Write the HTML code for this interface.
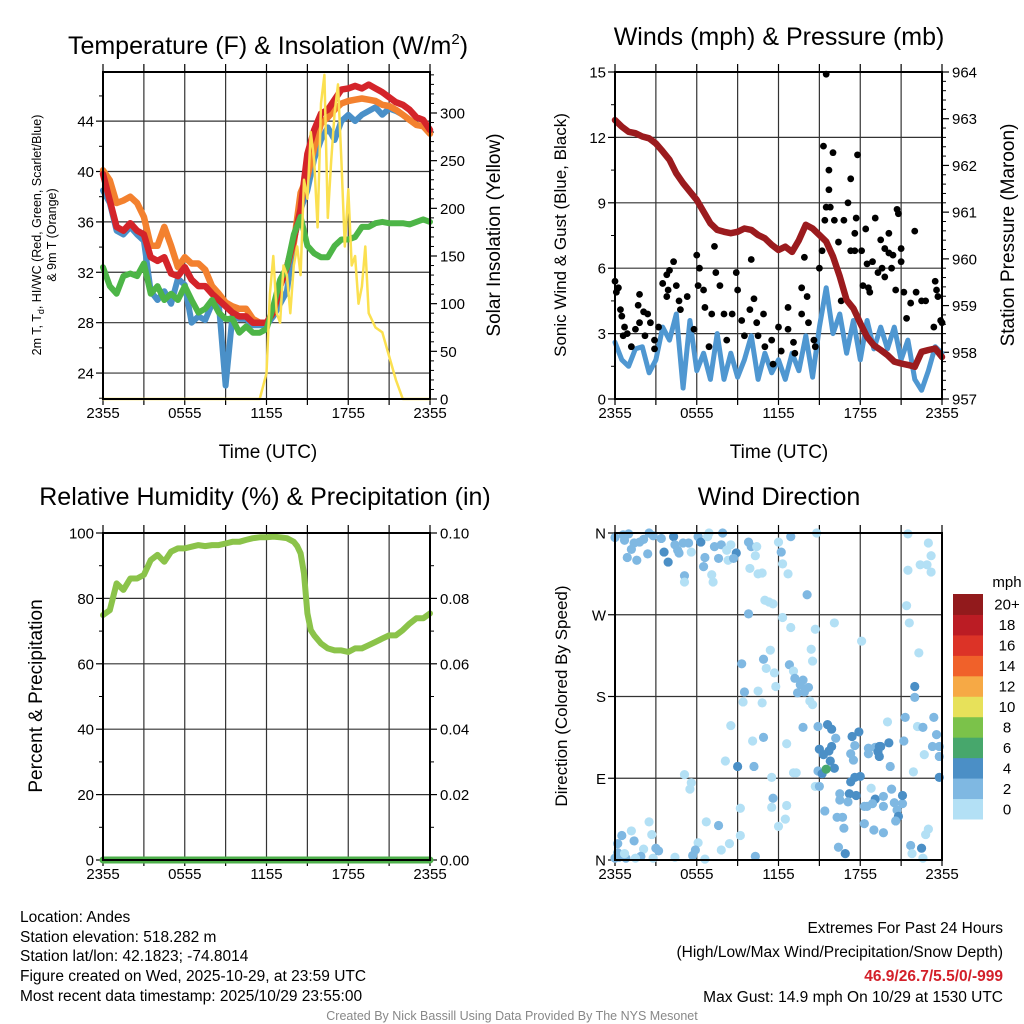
<!DOCTYPE html>
<html><head><meta charset="utf-8">
<style>
html,body{margin:0;padding:0;background:#fff;}
svg{display:block;font-family:"Liberation Sans",Arial,sans-serif;}
</style></head>
<body>
<svg id="fig" width="1024" height="1024" viewBox="0 0 1024 1024">
<g id="g1"></g>
<g id="g2"></g>
<g id="g3"></g>
<g id="g4"></g>
<g id="txt">
<text x="20" y="922" font-size="15.5">Location: Andes</text>
<text x="20" y="942" font-size="15.5">Station elevation: 518.282 m</text>
<text x="20" y="961" font-size="15.5">Station lat/lon: 42.1823; -74.8014</text>
<text x="20" y="981" font-size="15.5">Figure created on Wed, 2025-10-29, at 23:59 UTC</text>
<text x="20" y="1001" font-size="15.5">Most recent data timestamp: 2025/10/29 23:55:00</text>
<text x="1003" y="933" font-size="15.5" text-anchor="end">Extremes For Past 24 Hours</text>
<text x="1003" y="957" font-size="15.5" text-anchor="end">(High/Low/Max Wind/Precipitation/Snow Depth)</text>
<text x="1003" y="981" font-size="15.5" font-weight="bold" fill="#d3202a" text-anchor="end">46.9/26.7/5.5/0/-999</text>
<text x="1003" y="1002" font-size="15.5" text-anchor="end">Max Gust: 14.9 mph On 10/29 at 1530 UTC</text>
<text x="512" y="1020" font-size="12.5" fill="#888" text-anchor="middle">Created By Nick Bassill Using Data Provided By The NYS Mesonet</text>
</g>
</svg>
<script>
// ---- data ----
const hours = [0,0.5,1,1.5,2,2.5,3,3.5,4,4.5,5,5.5,6,6.5,7,7.5,8,8.5,9,9.5,10,10.5,11,11.5,12,12.5,13,13.5,14,14.5,15,15.5,16,16.5,17,17.5,18,18.5,19,19.5,20,20.5,21,21.5,22,22.5,23,23.5,24];
const timeTicks = ["2355","0555","1155","1755","2355"];
const tempRed = [39.8,37.7,35.6,35.3,35.9,35.3,35.0,33.2,32.9,33.2,31.9,31.7,32.4,31.4,30.9,30.9,30.3,29.8,29.3,28.8,28.5,28.5,28.0,28.0,28.0,28.8,30.9,32.4,34.6,37.0,41.4,43.3,44.6,44.9,45.7,46.5,46.6,46.8,46.6,46.9,46.6,46.3,45.9,45.5,45.3,44.9,44.3,44.1,43.3];
const temp9m = [40.1,39.3,37.5,37.7,38.0,37.5,36.4,34.1,34.1,35.6,34.1,32.4,33.2,32.7,32.7,32.2,30.9,30.3,29.6,29.3,29.1,29.1,28.3,28.0,28.0,28.8,30.9,32.4,34.3,38.3,39.6,41.9,43.8,44.3,44.9,45.4,45.6,45.7,45.8,45.7,45.6,45.3,45.2,44.9,44.5,44.1,43.7,43.6,43.0];
const heatIdx = [38.5,37.5,35.3,35.0,35.6,35.0,34.5,30.5,29.8,30.5,29.5,31.5,31.0,28.0,28.5,28.2,29.5,29.5,23.0,28.5,28.3,28.3,27.8,27.8,27.8,28.5,29.5,30.5,34.5,37.0,38.5,41.0,42.5,43.5,42.5,44.0,44.5,44.0,44.5,44.8,45.1,44.5,45.0,44.8,44.5,44.1,43.7,43.6,43.0];
const dewPt = [32.4,30.9,30.3,31.7,31.9,31.7,32.7,30.3,30.9,29.8,30.3,29.8,30.9,29.8,28.8,29.1,29.8,28.8,28.3,28.3,27.2,27.7,27.2,27.2,27.5,29.3,31.4,32.4,35.0,36.4,34.1,33.5,33.2,33.2,34.1,34.6,34.6,34.8,35.6,35.6,35.9,36.0,35.9,35.9,35.9,35.8,36.0,36.2,36.0];
const solarHours = [0,11.5,12,12.25,12.5,12.75,13,13.25,13.5,13.75,14,14.25,14.5,14.75,15,15.25,15.5,15.75,16,16.25,16.5,16.75,17,17.25,17.5,17.75,18,18.25,18.5,18.75,19,19.25,19.5,20,20.5,21,21.5,22,24];
const solarVals = [0,0,27,110,150,90,80,140,130,90,140,160,130,230,210,280,250,180,310,340,190,250,300,330,250,160,220,140,150,100,118,160,90,75,70,45,20,0,0];
const windSpd = [2.6,1.8,1.5,2.3,2.4,1.2,1.8,3.3,2.7,3.9,0.5,3.6,1.3,2.1,0.9,3.0,0.9,2.1,1.0,1.8,2.9,0.9,2.1,1.2,1.8,0.9,2.1,1.3,2.9,1.0,3.3,5.1,3.0,3.9,2.1,3.6,1.8,3.6,2.3,3.3,2.3,3.3,1.8,2.7,0.9,0.4,1.3,2.4,2.1];
const pressure = [962.97,962.83,962.72,962.69,962.62,962.58,962.47,962.30,962.12,961.83,961.62,961.44,961.26,961.01,960.76,960.62,960.58,960.55,960.58,960.65,960.62,960.51,960.44,960.30,960.19,960.26,960.15,960.40,960.73,960.65,960.51,960.37,960.05,959.62,959.12,958.94,958.62,958.33,958.15,958.05,957.94,957.80,957.76,957.73,957.69,958.01,958.05,958.08,957.90];
const gustHours = [0.0,0.1,0.25,0.4,0.5,0.7,0.9,0.6,1.2,1.5,1.8,1.8,1.7,2.1,2.4,2.6,2.2,2.9,2.9,3.2,3.5,3.8,4.0,4.3,3.9,3.8,4.5,4.7,4.8,5.3,5.8,6.0,6.2,6.1,6.5,6.6,6.9,7.1,7.3,7.4,7.7,8.0,8.2,8.6,8.9,9.0,9.3,9.5,9.9,10.0,10.2,10.4,10.5,10.9,11.0,11.5,11.6,12.0,12.2,12.7,12.7,13.1,13.2,13.7,13.7,13.9,14.1,14.2,14.6,14.7,15.0,15.2,15.3,15.4,15.5,15.5,15.7,15.7,15.8,16.0,16.1,16.4,16.6,16.8,17.1,17.3,17.3,17.6,17.6,17.8,17.7,18.1,18.2,18.4,18.5,18.6,18.7,18.9,19.1,19.3,19.5,19.6,19.8,19.8,20.1,20.1,20.3,20.4,20.6,20.7,20.8,21.0,21.0,21.2,21.4,21.7,22.0,22.1,22.5,22.8,23.4,23.5,23.6,23.7,23.9,24.0];
const gustVals = [5.4,4.9,5.1,4.1,3.8,3.3,3.0,2.9,2.4,3.2,3.5,4.8,4.3,4.0,3.9,3.5,2.9,2.7,2.3,3.3,5.3,5.7,5.9,6.3,5.0,4.7,5.2,4.5,4.1,4.7,3.2,6.6,6.0,5.2,5.0,4.2,2.4,3.9,7.0,5.8,5.2,3.9,2.7,3.9,5.8,5.0,3.6,2.9,4.1,6.4,4.6,3.5,2.9,3.9,2.4,2.7,1.6,3.3,2.2,4.2,3.2,2.6,2.1,3.9,5.1,6.5,4.7,3.5,2.7,2.4,6.0,6.8,11.6,8.2,14.9,8.8,10.5,9.6,8.8,11.3,8.2,7.2,4.5,8.2,9.0,10.1,6.8,7.6,6.8,11.2,8.3,6.8,5.2,7.8,6.2,5.1,4.9,6.3,8.3,5.8,7.3,6.0,6.9,5.6,7.6,6.7,6.0,6.6,5.0,8.7,8.5,6.9,6.3,4.9,3.7,4.4,7.7,4.9,4.5,4.5,3.3,5.4,5.0,4.7,3.6,3.5];
const rhHours = [0,0.5,1,1.5,2,2.5,3,3.5,4,4.5,5,5.5,6,6.5,7,7.5,8,8.5,9,9.5,10,10.5,11,11.5,12,12.5,13,13.5,14,14.25,14.5,14.75,15,15.25,15.5,16,16.5,17,17.5,18,18.5,19,19.5,20,20.5,21,21.5,22,22.5,23,23.5,24];
const rhVals = [74.9,76.4,84.6,82.6,86.1,86.1,87.2,91.7,93.3,91.2,94.3,95.3,95.3,95.8,96.3,96.0,96.3,96.3,96.8,97.3,97.3,97.9,98.4,98.7,98.7,98.9,98.7,98.4,97.3,96.0,93.8,87.6,75.4,70.3,68.7,66.2,64.7,64.1,64.1,63.6,64.7,64.7,65.7,66.7,67.7,68.7,68.7,70.3,72.3,73.9,73.9,75.4];
const precipHours = [0,24];
const precipVals = [0,0];
const dirHours = [0.0,0.6,1.0,0.7,1.2,0.9,1.6,1.4,1.8,2.1,2.4,2.5,2.8,3.4,3.6,3.9,4.3,4.4,4.6,4.7,5.0,5.4,5.6,6.1,6.3,6.6,6.8,6.9,7.3,7.6,7.9,7.8,8.2,8.3,8.5,8.9,8.7,6.5,7.1,7.2,5.1,5.1,9.8,10.0,10.3,10.4,9.9,10.5,10.8,12.0,12.2,12.3,12.7,12.9,14.8,14.1,11.0,11.3,11.6,9.8,12.3,12.9,14.7,16.1,14.4,14.5,18.1,21.5,23.0,23.2,22.9,22.4,23.2,21.5,21.4,21.6,22.3,
9.3,10.9,11.4,11.1,12.8,13.1,11.7,13.2,13.8,13.6,14.2,13.4,13.9,9.5,10.5,11.8,9.4,10.8,14.3,14.5,22.0,22.0,21.3,23.4,20.0,22.2,22.6,23.6,23.3,21.2,22.7,23.8,23.8,13.8,14.9,15.6,15.9,16.2,17.4,17.9,17.6,15.9,15.7,15.0,15.3,15.8,16.1,14.9,15.2,15.5,8.5,10.9,10.1,12.6,8.1,9.0,10.2,5.1,5.6,5.5,11.5,13.1,13.3,14.7,15.0,17.3,17.5,18.6,18.6,19.1,19.4,19.3,19.5,19.4,20.2,20.1,17.3,17.6,18.0,21.9,23.8,18.8,16.5,17.2,17.7,16.5,17.1,18.3,18.5,19.1,18.9,19.7,20.3,20.5,21.1,21.1,20.7,20.8,20.6,19.7,18.3,19.0,19.7,16.3,16.7,16.8,15.4,16.4,16.9,21.7,22.5,22.6,21.8,23.0,22.8,12.6,11.6,11.5,9.2,12.5,12.0,9.2,10.3,8.4,7.8,7.6,6.7,6.1,5.9,5.7,6.6,4.4,3.2,3.0,2.8,2.5,2.7,2.1,1.9,1.5,1.4,1.2,0.5,0.2,0.2,0.0,0.3,0.8,0.7];
const dirDegrees = [355,358,359,352,342,333,330,349,350,353,337,360,357,354,339,328,356,347,341,338,349,349,339,356,350,333,356,360,345,332,360,347,341,330,347,338,332,323,314,306,313,306,350,345,335,345,321,315,316,350,339,326,315,356,360,292,286,284,282,271,267,256,254,261,232,219,241,359,349,335,325,325,317,319,280,261,228,
216,221,231,211,215,208,206,200,198,193,190,184,185,185,186,191,174,173,175,171,191,179,157,157,152,147,146,138,125,131,116,125,114,146,147,149,144,134,136,141,126,125,120,122,116,109,101,98,95,100,148,135,131,128,109,103,103,94,85,78,91,96,96,81,81,117,110,123,117,124,125,119,125,114,103,129,86,91,92,97,91,79,73,73,71,66,64,59,59,67,62,70,78,63,62,71,55,48,43,59,40,33,30,47,47,35,54,14,7,16,13,2,7,34,28,60,68,58,57,45,37,27,4,18,11,38,42,19,11,5,1,3,10,13,2,42,28,12,4,2,21,32,27,18,8,2,3,2,7];
const dirSpeeds = [3,3,3,3,3,3,3,3,3,3,3,3,3,3,5,5,5,3,3,3,3,3,1,3,5,3,1,1,3,3,3,3,1,1,1,5,3,3,1,1,3,1,3,3,1,1,1,1,1,1,3,1,1,3,1,3,1,1,1,3,1,1,1,1,1,1,1,1,1,1,1,1,1,1,1,1,1,
3,3,1,1,3,1,1,3,3,3,3,3,3,3,1,1,1,1,1,1,5,3,3,3,1,1,3,3,3,3,1,3,3,3,3,5,5,3,5,5,3,5,5,5,5,5,5,3,5,7,1,3,1,1,1,5,3,1,1,1,1,1,1,1,3,3,3,3,3,3,5,5,5,5,3,5,5,5,5,1,5,1,3,5,5,3,3,3,3,5,3,3,3,3,3,5,3,5,3,3,3,3,3,3,3,3,3,3,5,3,5,1,1,1,1,1,3,1,1,1,1,1,3,1,1,3,1,1,3,3,1,1,3,3,1,1,1,1,3,1,3,1,3,3,3,3,3,3,1];
const speedColors = ["#b3e0f5","#7fb8e2","#4b8fc6","#47a76c","#7bc24a","#e7e15a","#f6a945","#f0612a","#dc3327","#bb1c24","#921a1c"];
const cbLabels = ["0","2","4","6","8","10","12","14","16","18","20+"];

// ---- helpers ----
const NS="http://www.w3.org/2000/svg";
function mk(parent,tag,attrs,txt){const e=document.createElementNS(NS,tag);for(const k in attrs)e.setAttribute(k,attrs[k]);if(txt!==undefined)e.textContent=txt;parent.appendChild(e);return e;}
function lin(d0,d1,r0,r1){return v=>r0+(v-d0)*(r1-r0)/(d1-d0);}
function pathFrom(xs,ys,fx,fy){return xs.map((h,i)=>(i?"L":"M")+fx(h).toFixed(1)+","+fy(ys[i]).toFixed(1)).join("");}

function frame(g,L,R,T,B,yTicks,fy,labels,minorTicks){
  const fx=lin(0,24,L,R);
  for(let h=3;h<24;h+=3){const l=mk(g,"line",{x1:fx(h),x2:fx(h),y1:T,y2:B,stroke:"#333","stroke-width":1.2});
    
    }
  yTicks.forEach((v,i)=>{const y=fy(v);
    if(y>T+1&&y<B-1){const l=mk(g,"line",{x1:L,x2:R,y1:y,y2:y,stroke:"#333","stroke-width":1.2});
      
      }
    mk(g,"line",{x1:L-7,x2:L,y1:y,y2:y,stroke:"#000","stroke-width":1.2});
    const t=mk(g,"text",{x:L-9,y:y+5.5,"font-size":15,"text-anchor":"end"},labels[i]);
    
    
  });
  (minorTicks||[]).forEach(v=>{const y=fy(v);mk(g,"line",{x1:L-4,x2:L,y1:y,y2:y,stroke:"#000","stroke-width":1});});
  for(let h=0;h<=24;h+=3){mk(g,"line",{x1:fx(h),x2:fx(h),y1:B,y2:B+6,stroke:"#000","stroke-width":1.2});
    mk(g,"line",{x1:fx(h),x2:fx(h),y1:T-8,y2:T,stroke:"#000","stroke-width":1.2});}
  timeTicks.forEach((s,i)=>{const t=mk(g,"text",{x:fx(i*6),y:B+19,"font-size":15,"text-anchor":"middle"},s);
    
    });
  return fx;
}
function border(g,L,R,T,B){const r=mk(g,"rect",{x:L,y:T,width:R-L,height:B-T,fill:"none",stroke:"#000","stroke-width":2});
  
  }
function rightTicks(g,R,vals,fy,labels,minor){
  vals.forEach((v,i)=>{const y=fy(v);mk(g,"line",{x1:R,x2:R+7,y1:y,y2:y,stroke:"#000","stroke-width":1.2});
    const t=mk(g,"text",{x:R+10,y:y+5.5,"font-size":15},labels[i]);
    
    });
  (minor||[]).forEach(v=>{const y=fy(v);mk(g,"line",{x1:R,x2:R+4,y1:y,y2:y,stroke:"#000","stroke-width":1});});
}
function title(g,x,y,s,name,size){const t=mk(g,"text",{x:x,y:y,"font-size":size||25,"text-anchor":"middle"},s);
  
  return t;}
function vtitle(g,x,y,s,name,size,rot){const t=mk(g,"text",{x:x,y:y,"font-size":size||19,"text-anchor":"middle",transform:`rotate(${rot||-90} ${x} ${y})`},s);
  
  return t;}
function series(g,xs,ys,fx,fy,color,w,name){const p=mk(g,"path",{d:pathFrom(xs,ys,fx,fy),fill:"none",stroke:color,"stroke-width":w,"stroke-linejoin":"round","stroke-linecap":"round"});
  
  return p;}

// ---- panel 1 ----
(function(){
  const g=document.getElementById("g1");const L=103,R=430,T=72,B=399;
  const fy=lin(21.94,47.9,B,T), fs=lin(0,343,B,T);
  const fx=frame(g,L,R,T,B,[24,28,32,36,40,44],fy,["24","28","32","36","40","44"],[22,26,30,34,38,42,46]);
  const ry=[0,50,100,150,200,250,300], rm=[];for(let v=10;v<343;v+=10)if(v%50)rm.push(v);
  rightTicks(g,R,ry,fs,ry.map(String),rm);
  series(g,hours,heatIdx,fx,fy,"#4a90c8",6,"heat-index-wind-chill-line");
  series(g,hours,temp9m,fx,fy,"#f3812f",6.5,"temp-9m-line");
  series(g,hours,tempRed,fx,fy,"#d4242a",6.5,"temp-2m-line");
  series(g,hours,dewPt,fx,fy,"#4db547",6,"dewpoint-line");
  series(g,solarHours,solarVals,fx,fs,"#fbe050",2.5,"solar-insolation-line");
  border(g,L,R,T,B);
  const t=title(g,268,54,"Temperature (F) & Insolation (W/m","chart-title");
  mk(t,"tspan",{"font-size":15,dy:-10},"2");mk(t,"tspan",{dy:10},")");
  title(g,268,458,"Time (UTC)","x-axis-title",19);
  const a=vtitle(g,41,235,"2m T, T","y-axis-title-left",12.5);
  mk(a,"tspan",{"font-size":9,dy:3},"d");
  mk(a,"tspan",{dy:-3},", HI/WC (Red, Green, Scarlet/Blue)");
  vtitle(g,56,235,"& 9m T (Orange)","y-axis-title-left-2",12.5);
  vtitle(g,500,235,"Solar Insolation (Yellow)","y-axis-title-right",19);
})();

// ---- panel 2 ----
(function(){
  const g=document.getElementById("g2");const L=615,R=942,T=72,B=399;
  const fy=lin(0,15,B,T), fp=lin(957,964,B,T);
  const fx=frame(g,L,R,T,B,[0,3,6,9,12,15],fy,["0","3","6","9","12","15"],[1.5,4.5,7.5,10.5,13.5]);
  const pv=[957,958,959,960,961,962,963,964],pm=[];for(let v=957.2;v<964;v+=0.2){if(Math.abs(v-Math.round(v))>0.05)pm.push(v);}
  rightTicks(g,R,pv,fp,pv.map(String),pm);
  series(g,hours,windSpd,fx,fy,"#4f97d1",5,"wind-speed-line");
  gustHours.forEach((h,i)=>{const c=mk(g,"circle",{cx:fx(h),cy:fy(gustVals[i]),r:3.4,fill:"#000"});
    
    });
  series(g,hours,pressure,fx,fp,"#9b1b1e",6.5,"pressure-line");
  border(g,L,R,T,B);
  title(g,779,45,"Winds (mph) & Pressure (mb)","chart-title");
  title(g,779,458,"Time (UTC)","x-axis-title",19);
  vtitle(g,566,235,"Sonic Wind & Gust (Blue, Black)","y-axis-title-left",17);
  vtitle(g,1014,235,"Station Pressure (Maroon)","y-axis-title-right",19);
})();

// ---- panel 3 ----
(function(){
  const g=document.getElementById("g3");const L=103,R=430,T=533,B=860;
  const fy=lin(0,100,B,T), fpp=lin(0,0.1,B,T);
  const fx=frame(g,L,R,T,B,[0,20,40,60,80,100],fy,["0","20","40","60","80","100"],[10,30,50,70,90]);
  const rv=[0,0.02,0.04,0.06,0.08,0.1];
  rightTicks(g,R,rv,fpp,rv.map(v=>v.toFixed(2)),[0.01,0.03,0.05,0.07,0.09]);
  series(g,rhHours,rhVals,fx,fy,"#8bc34a",6,"humidity-line");
  series(g,precipHours,precipVals,fx,fpp,"#4daf4a",7,"precipitation-line");
  border(g,L,R,T,B);
  title(g,265,505,"Relative Humidity (%) & Precipitation (in)","chart-title");
  vtitle(g,42,696,"Percent & Precipitation","y-axis-title",19);
})();

// ---- panel 4 ----
(function(){
  const g=document.getElementById("g4");const L=615,R=942,T=533,B=860;
  const fy=lin(0,360,B,T);
  const fx=frame(g,L,R,T,B,[0,90,180,270,360],fy,["N","E","S","W","N"],[]);
  dirHours.forEach((h,i)=>{const s=dirSpeeds[i];const ci=Math.min(10,Math.floor(s/2));
    const c=mk(g,"circle",{cx:fx(h),cy:fy(dirDegrees[i]),r:4.6,fill:speedColors[ci]});
    
    });
  border(g,L,R,T,B);
  title(g,779,505,"Wind Direction","chart-title");
  vtitle(g,567,696,"Direction (Colored By Speed)","y-axis-title",17);
  const cb=mk(g,"g",{});
  
  
  const bh=225/11;
  speedColors.forEach((c,i)=>{const y=819-(i+1)*bh;
    const r=mk(cb,"rect",{x:953,y:y,width:30,height:bh+0.5,fill:c});
    
    
    const t=mk(cb,"text",{x:1007,y:y+bh/2+5.5,"font-size":15,"text-anchor":"middle"},cbLabels[i]);
    
    });
  const m=mk(cb,"text",{x:1007,y:587,"font-size":15,"text-anchor":"middle"},"mph");
  
  
})();
</script>
</body></html>
